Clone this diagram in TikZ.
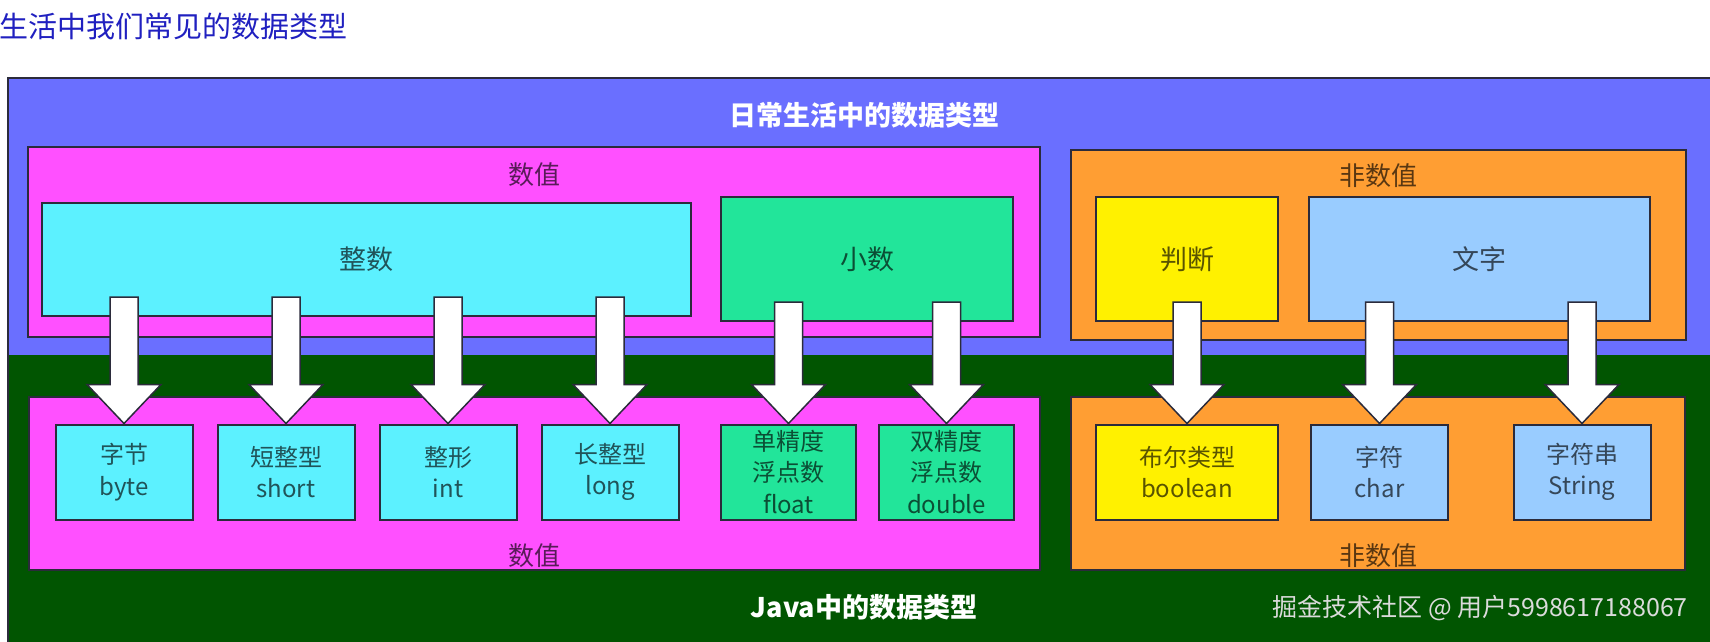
\documentclass[tikz,border=0pt]{standalone}
\usepackage{fontspec}
\setmainfont{Noto Sans CJK SC}
\usepackage{xcolor}
\definecolor{dtline}{HTML}{2B2B3B}
\definecolor{dttitle}{HTML}{2020C0}
\definecolor{dtlife}{HTML}{6A6FFF}
\definecolor{dtjava}{HTML}{015501}
\definecolor{dtnum}{HTML}{FF50FF}
\definecolor{dtnon}{HTML}{FF9E33}
\definecolor{dtint}{HTML}{5CF1FF}
\definecolor{dtfloat}{HTML}{22E59A}
\definecolor{dtbool}{HTML}{FFF100}
\definecolor{dttext}{HTML}{99CCFF}
\usepackage{tikz}
\usetikzlibrary{positioning,calc}
\tikzset{
  dtwrap/.style={draw=dtline,line width=2pt,inner sep=0pt,minimum height=190pt},
  dtbig/.style={draw=dtline,line width=2pt,inner sep=0pt,text=black,text opacity=.65,font=\fontsize{27}{32}\selectfont,minimum height=124pt},
  dtbox/.style={draw=dtline,line width=2pt,inner sep=0pt,align=center,text=black,text opacity=.65,font=\fontsize{24}{31.5}\selectfont,minimum width=137pt,minimum height=95pt},
  dtlabel/.style={text=black,text opacity=.65,font=\fontsize{26}{30}\selectfont,inner sep=0pt},
  dthead/.style={text=white,font=\bfseries\fontsize{27}{32}\selectfont,inner sep=0pt},
  dtflow/.style={draw=dtline,line width=1.5pt,fill=white,line join=miter},
}

\begin{document}
\begin{tikzpicture}[x=1pt,y=-1pt]
\useasboundingbox (0,0) rectangle (1710,642);
\clip (0,0) rectangle (1710,642);
\fill[white] (0,0) rectangle (1710,642);
\node[anchor=west,inner sep=0pt,text=dttitle,font=\fontsize{29}{33}\selectfont] (title) at (-1,26) {生活中我们常见的数据类型};
\node[fill=dtjava,inner sep=0pt,outer sep=0pt,anchor=north west,minimum width=1710pt,minimum height=300pt] (java) at (8,354) {};
\node[fill=dtlife,inner sep=0pt,outer sep=0pt,anchor=north west,minimum width=1710pt,minimum height=277pt] (life) at (8,78) {};
\draw[dtline,line width=2pt] (java.south east) |- (life.north west) -- (java.south west);
\node[dthead] (lifehd) at (864,115) {日常生活中的数据类型};
\node[dthead] (javahd) at (864,607) {Java中的数据类型};
\node[dtwrap,fill=dtnum,minimum width=1012pt] (num) at (534,242) {};
\node[dtlabel] (numlb) at ($(num.north)+(0,29)$) {数值};
\node[dtwrap,fill=dtnon,minimum width=615pt] (non) at (1378.5,245) {};
\node[dtlabel] (nonlb) at ($(non.north)+(0,27)$) {非数值};
\node[dtwrap,fill=dtnum,minimum width=1011pt,minimum height=173pt] (jnum) at (534.5,483.5) {};
\node[dtlabel] (jnumlb) at ($(jnum.south)+(0,-15)$) {数值};
\node[dtwrap,fill=dtnon,minimum width=614pt,minimum height=173pt] (jnon) at (1378,483.5) {};
\node[dtlabel] (jnonlb) at ($(jnon.south)+(0,-15)$) {非数值};
\node[dtbig,fill=dtint,minimum width=649pt,minimum height=113pt] (zs) at (366.5,259.5) {整数};
\node[dtbig,fill=dtfloat,minimum width=292pt] (xs) at (867,259) {小数};
\node[dtbig,fill=dtbool,minimum width=182pt] (pd) at (1187,259) {判断};
\node[dtbig,fill=dttext,minimum width=341pt] (wz) at (1479.5,259) {文字};
\node[dtbox,fill=dtint] (byte) at (124,472) {字节\\byte};
\node[dtbox,fill=dtint,right=23pt of byte] (short) {短整型\\short};
\node[dtbox,fill=dtint,right=23pt of short] (int) {整形\\int};
\node[dtbox,fill=dtint,right=23pt of int] (long) {长整型\\long};
\node[dtbox,fill=dtfloat,minimum width=135pt] (float) at (788.5,472) {单精度\\浮点数\\float};
\node[dtbox,fill=dtfloat,minimum width=135pt,right=21pt of float] (double) {双精度\\浮点数\\double};
\node[dtbox,fill=dtbool,minimum width=182pt] (bool) at (1187,472) {布尔类型\\boolean};
\node[dtbox,fill=dttext,right=31pt of bool] (char) {字符\\char};
\node[dtbox,fill=dttext] (str) at (1582,472) {字符串\\String};
\foreach \src/\dst in {zs/byte,zs/short,zs/int,zs/long,xs/float,xs/double,pd/bool,wz/char,wz/str}
  \draw[dtflow] ($(\dst.north |- \src.south)+(-14,-20)$) -- ($(\dst.north)+(-14,-39)$) -- ++(-23,0) -- (\dst.north) -- ($(\dst.north)+(37,-39)$) -- ++(-23,0) -- ($(\dst.north |- \src.south)+(14,-20)$) -- cycle;
\node[anchor=east,inner sep=0pt,text=white!86!black,font=\fontsize{25}{30}\selectfont] (mark) at (1688,608) {掘金技术社区 @ 用户5998617188067};
\end{tikzpicture}
\end{document}
